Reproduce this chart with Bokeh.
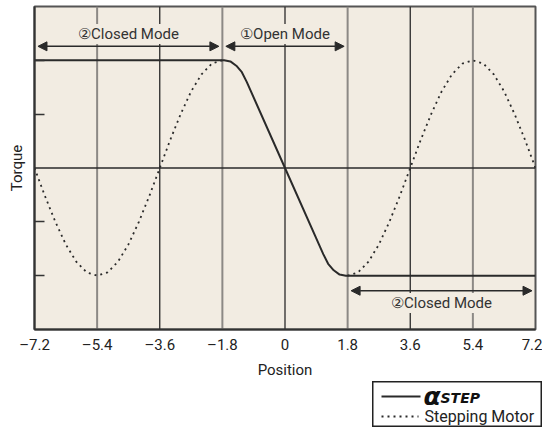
from bokeh.plotting import figure
from bokeh.models import Span, Label, Arrow, NormalHead, FixedTicker, Spacer
from bokeh.layouts import column, row
from bokeh.embed import file_html
from bokeh.resources import INLINE
from bokeh.core.properties import value

FONT = "Roboto"
BG = "#f2ece2"
DARK = "#2a2a2a"
GRAY = "#8c8985"
NAN = float("nan")

# ---- data ----
x_ticks = [-7.2, -5.4, -3.6, -1.8, 0, 1.8, 3.6, 5.4, 7.2]
x_tick_labels = ["\u20137.2", "\u20135.4", "\u20133.6", "\u20131.8", "0", "1.8", "3.6", "5.4", "7.2"]
y_ticks = [-1, -0.5, 0.5, 1]
grid_gray = [-5.4, -1.8, 1.8, 5.4]
grid_dark = [-3.6, 0, 3.6]

alpha_x = [-7.2, -1.75, -1.57, -1.4, -1.24, -1.1, 0, 1.1, 1.24, 1.4, 1.57, 1.75, 7.2]
alpha_y = [1, 1, 0.99, 0.95, 0.89, 0.8, 0, -0.8, -0.89, -0.95, -0.99, -1, -1]

# stepping motor curve (the part between -1.8 and 1.8 lies under the alpha-step line)
step_x = [-7.2, -6.9, -6.6, -6.3, -6.0, -5.7, -5.4, -5.1, -4.8, -4.5, -4.2, -3.9,
          -3.6, -3.3, -3.0, -2.7, -2.4, -2.1, -1.8, -1.5, -1.2, -0.9, -0.6, -0.3,
          0, 0.3, 0.6, 0.9, 1.2, 1.5, 1.8, 2.1, 2.4, 2.7, 3.0, 3.3,
          3.6, 3.9, 4.2, 4.5, 4.8, 5.1, 5.4, 5.7, 6.0, 6.3, 6.6, 6.9, 7.2]
step_y = [0, -0.26, -0.5, -0.71, -0.87, -0.97, -1, -0.97, -0.87, -0.71, -0.5, -0.26,
          0, 0.26, 0.5, 0.71, 0.87, 0.97, 1, NAN, NAN, NAN, NAN, NAN,
          NAN, NAN, NAN, NAN, NAN, NAN, -1, -0.97, -0.87, -0.71, -0.5, -0.26,
          0, 0.26, 0.5, 0.71, 0.87, 0.97, 1, 0.97, 0.87, 0.71, 0.5, 0.26, 0]

mode_labels = ["\u2461Closed Mode", "\u2460Open Mode", "\u2461Closed Mode"]
mode_start = [-7.2, -1.8, 1.8]
mode_end = [-1.8, 1.8, 7.2]

legend_labels = ["STEP", "Stepping Motor"]

# ---- main figure ----
p = figure(frame_width=501, frame_height=323, x_range=(-7.2, 7.2), y_range=(-1.5, 1.5),
           output_backend="svg", toolbar_location=None,
           min_border_left=34, min_border_right=7, min_border_top=6, min_border_bottom=0)
p.background_fill_color = BG
p.border_fill_color = "white"
p.outline_line_color = "#555555"
p.outline_line_width = 2
p.grid.visible = False

p.xaxis.ticker = FixedTicker(ticks=x_ticks)
p.xaxis.major_label_overrides = {float(t): l for t, l in zip(x_ticks, x_tick_labels)}
p.xaxis.major_tick_line_color = None
p.xaxis.major_tick_in = 0
p.xaxis.major_tick_out = 0
p.xaxis.minor_tick_line_color = None
p.xaxis.minor_tick_in = 0
p.xaxis.minor_tick_out = 0
p.xaxis.major_label_standoff = 6
p.xaxis.major_label_text_font = FONT
p.xaxis.major_label_text_font_size = "15px"
p.xaxis.major_label_text_color = "#222222"
p.xaxis.axis_label = "Position"
p.xaxis.axis_label_standoff = 4
p.xaxis.axis_label_text_font = FONT
p.xaxis.axis_label_text_font_size = "15px"
p.xaxis.axis_label_text_font_style = "normal"
p.xaxis.axis_label_text_color = "#222222"
p.xaxis.axis_line_color = "#333333"
p.xaxis.axis_line_width = 2

p.yaxis.ticker = FixedTicker(ticks=y_ticks)
p.yaxis.major_label_overrides = {float(t): "" for t in y_ticks}
p.yaxis.major_tick_in = 10
p.yaxis.major_tick_out = 0
p.yaxis.major_tick_line_color = "#333333"
p.yaxis.major_tick_line_width = 1.5
p.yaxis.minor_tick_line_color = None
p.yaxis.minor_tick_in = 0
p.yaxis.minor_tick_out = 0
p.yaxis.major_label_standoff = 0
p.yaxis.axis_label = "Torque"
p.yaxis.axis_label_standoff = 9
p.yaxis.axis_label_text_font = FONT
p.yaxis.axis_label_text_font_size = "15px"
p.yaxis.axis_label_text_font_style = "normal"
p.yaxis.axis_label_text_color = "#222222"
p.yaxis.axis_line_color = "#333333"
p.yaxis.axis_line_width = 2

for gx in grid_gray:
    p.add_layout(Span(location=gx, dimension="height", line_color=GRAY, line_width=2, level="underlay"))
for gx in grid_dark:
    p.add_layout(Span(location=gx, dimension="height", line_color=DARK, line_width=1.3, level="underlay"))
p.add_layout(Span(location=0, dimension="width", line_color=DARK, line_width=1.5, level="underlay"))

p.line(step_x, step_y, line_color=DARK, line_width=1.8, line_dash="2 4")
p.line(alpha_x, alpha_y, line_color=DARK, line_width=2)

arrow_y = [1.13, 1.13, -1.14]
text_y = [1.245, 1.245, -1.255]
for lab, s, e, ay, ty in zip(mode_labels, mode_start, mode_end, arrow_y, text_y):
    p.add_layout(Arrow(start=NormalHead(size=9, fill_color=DARK, line_color=DARK),
                       end=NormalHead(size=9, fill_color=DARK, line_color=DARK),
                       x_start=s + 0.1, x_end=e - 0.1, y_start=ay, y_end=ay,
                       line_color=DARK, line_width=1.5))
    p.add_layout(Label(x=(s + e) / 2, y=ty, text=lab, text_align="center", text_baseline="middle",
                       text_font=FONT, text_font_size="15px", text_color="#333333",
                       background_fill_color=BG, padding=1))

# ---- legend box ----
lg = figure(width=170, height=46, x_range=(0, 170), y_range=(0, 46),
            output_backend="svg", toolbar_location=None,
            min_border_left=0, min_border_right=0, min_border_top=0, min_border_bottom=0)
lg.axis.visible = False
lg.grid.visible = False
lg.background_fill_color = "white"
lg.outline_line_color = "#222222"
lg.outline_line_width = 2
lg.line([9, 48], [31, 31], line_color=DARK, line_width=2)
lg.line([9, 46], [11, 11], line_color=DARK, line_width=1.8, line_dash="2 4")
lg.text([51], [31], text=["\u03b1"], text_font=value("DejaVu Sans"), text_font_size="25px",
        text_font_style="bold italic", text_baseline="middle", text_color="#111111")
lg.text([68], [30], text=[legend_labels[0]], text_font=value("DejaVu Sans"), text_font_size="14px",
        text_font_style="bold italic", text_baseline="middle", text_color="#111111")
lg.text([52], [11], text=[legend_labels[1]], text_font=value(FONT), text_font_size="16px",
        text_baseline="middle", text_color="#222222")

layout = column(p, row(Spacer(width=372, height=46), lg))
open("out.html", "w").write(file_html(layout, INLINE))
